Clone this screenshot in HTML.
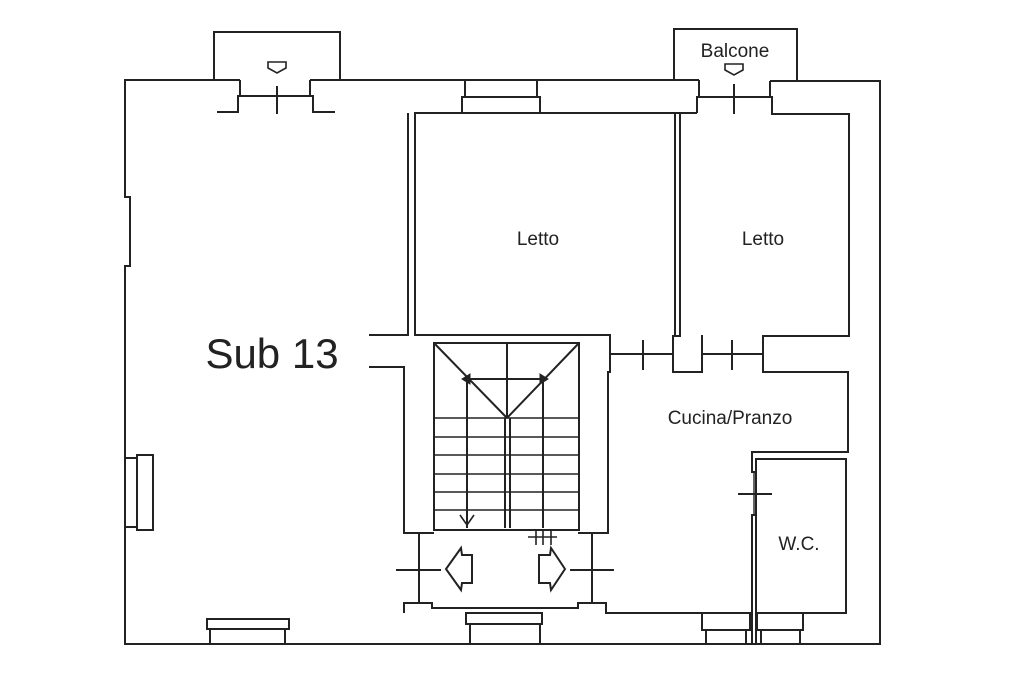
<!DOCTYPE html>
<html><head><meta charset="utf-8"><style>
html,body{margin:0;padding:0;background:#fff;}
svg{display:block;}
text{font-family:"Liberation Sans",Arial,sans-serif;fill:#222;}
</style></head><body>
<svg width="1024" height="683" viewBox="0 0 1024 683" xmlns="http://www.w3.org/2000/svg">
<rect width="1024" height="683" fill="#fff"/>
<g fill="none" stroke="#222" stroke-width="2" stroke-linejoin="miter">
<!-- outer walls -->
<polyline points="240,80 125,80 125,197 130,197 130,266 125,266 125,644 880,644 880,81 770,81"/>
<polyline points="310,80 699,80"/>
<!-- left balcony -->
<polyline points="214,80 214,32 340,32 340,80"/>
<polyline points="240,80 240,96 238,96 238,112 217,112"/>
<polyline points="310,80 310,96 313,96 313,112 335,112"/>
<line x1="238" y1="96" x2="310" y2="96"/>
<line x1="277" y1="86" x2="277" y2="114"/>
<polygon points="268,62 286,62 286,68 277,73 268,68" stroke-width="1.6"/>
<!-- right balcony -->
<polyline points="674,80 674,29 797,29 797,80"/>
<polyline points="699,80 699,97 697,97 697,113"/>
<polyline points="770,81 770,97 772,97 772,114 849,114 849,336 763,336 763,372 848,372 848,452 752,452 752,472 757,472"/>
<line x1="697" y1="97" x2="770" y2="97"/>
<line x1="734" y1="84" x2="734" y2="114"/>
<polygon points="725,64 743,64 743,70 734,75 725,70" stroke-width="1.6"/>
<!-- top window -->
<rect x="465" y="80" width="72" height="17"/>
<rect x="462" y="97" width="78" height="16"/>
<!-- rooms -->
<polyline points="697,113 415,113 415,335 610,335 610,372 608,372 608,533 578,533"/>
<polyline points="408,113 408,335 369,335"/>
<line x1="675" y1="113" x2="675" y2="336"/>
<polyline points="680,113 680,336 673,336 673,372 702,372 702,336 703,336"/>
<line x1="610" y1="354" x2="673" y2="354"/>
<line x1="643" y1="340" x2="643" y2="370"/>
<line x1="702" y1="354" x2="763" y2="354"/>
<line x1="732" y1="340" x2="732" y2="370"/>
<!-- left stair wall -->
<polyline points="369,367 404,367 404,533 434,533"/>
<!-- stair -->
<rect x="434" y="343" width="145" height="187"/>
<line x1="507" y1="343" x2="507" y2="418"/>
<line x1="505" y1="418" x2="505" y2="528"/>
<line x1="510" y1="418" x2="510" y2="528"/>
<line x1="434" y1="343" x2="507" y2="418"/>
<line x1="579" y1="343" x2="507" y2="418"/>
<polyline points="467,528 467,379 543,379 543,528"/>
<g stroke-width="1.6">
<line x1="434" y1="418" x2="579" y2="418"/>
<line x1="434" y1="437" x2="579" y2="437"/>
<line x1="434" y1="455" x2="579" y2="455"/>
<line x1="434" y1="474" x2="579" y2="474"/>
<line x1="434" y1="492" x2="579" y2="492"/>
<line x1="434" y1="510" x2="579" y2="510"/>
<polyline points="460,515 467,525 474,515"/>
</g>
<polygon points="462,379 470,374 470,384" fill="#222" stroke-width="1"/>
<polygon points="548,379 540,374 540,384" fill="#222" stroke-width="1"/>
<!-- landing -->
<line x1="419" y1="533" x2="419" y2="603"/>
<line x1="592" y1="533" x2="592" y2="603"/>
<line x1="396" y1="570" x2="441" y2="570"/>
<line x1="570" y1="570" x2="614" y2="570"/>
<polyline points="404,613 404,603 432,603 432,608 578,608 578,603 606,603 606,613 752,613"/>
<line x1="528" y1="537" x2="557" y2="537" stroke-width="1.6"/>
<line x1="536" y1="531" x2="536" y2="545" stroke-width="1.6"/>
<line x1="543" y1="531" x2="543" y2="545" stroke-width="1.6"/>
<line x1="551" y1="531" x2="551" y2="545" stroke-width="1.6"/>
<polygon points="446,569 461,548 462,555 472,555 472,583 462,583 461,590"/>
<polygon points="565,569 551,548 550,555 539,555 539,583 550,583 551,590"/>
<!-- bottom windows -->
<rect x="466" y="613" width="76" height="11"/>
<rect x="470" y="624" width="70" height="20"/>
<rect x="702" y="613" width="48" height="17"/>
<rect x="706" y="630" width="40" height="14"/>
<rect x="757" y="613" width="46" height="17"/>
<rect x="761" y="630" width="39" height="14"/>
<rect x="207" y="619" width="82" height="10"/>
<rect x="210" y="629" width="75" height="15"/>
<!-- left side window -->
<rect x="137" y="455" width="16" height="75"/>
<polyline points="125,458 137,458"/>
<polyline points="125,527 137,527"/>
<!-- WC -->
<rect x="756" y="459" width="90" height="154"/>
<polyline points="756,515 752,515 752,644"/>
<line x1="756" y1="613" x2="756" y2="644"/>
<line x1="754" y1="472" x2="754" y2="515" stroke-width="1.4"/>
<line x1="738" y1="494" x2="772" y2="494"/>
</g>
<text x="735" y="57" font-size="19" text-anchor="middle">Balcone</text>
<text x="538" y="245" font-size="19" text-anchor="middle">Letto</text>
<text x="763" y="245" font-size="19" text-anchor="middle">Letto</text>
<text x="272" y="368" font-size="42" text-anchor="middle">Sub 13</text>
<text x="730" y="424" font-size="19" text-anchor="middle">Cucina/Pranzo</text>
<text x="799" y="550" font-size="19" text-anchor="middle">W.C.</text>
</svg>
</body></html>
